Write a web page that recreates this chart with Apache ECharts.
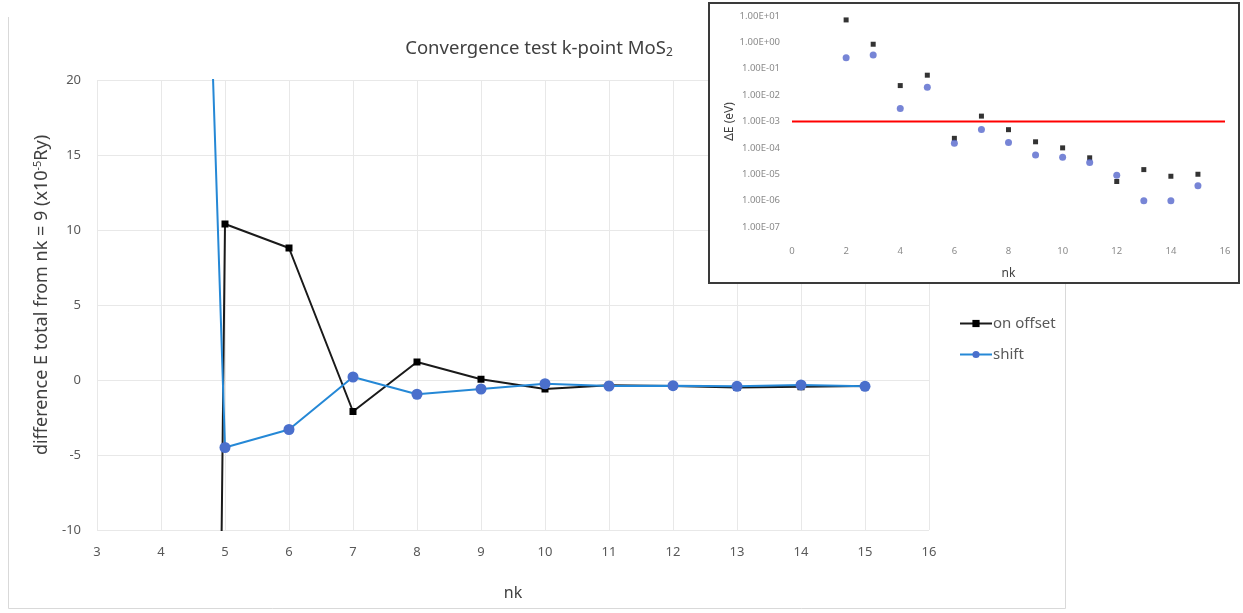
<!DOCTYPE html>
<html>
<head>
<meta charset="utf-8">
<script src="https://cdn.jsdelivr.net/npm/echarts@6/dist/echarts.min.js"></script>
<style>
  html, body { margin: 0; padding: 0; background: #ffffff; }
  #chart { width: 1243px; height: 613px; }
</style>
</head>
<body>
<div id="chart"></div>
<script>
// Main plot: total-energy difference relative to nk = 9 (x10^-5 Ry)
const nkMain = [4, 5, 6, 7, 8, 9, 10, 11, 12, 13, 14, 15];
const onOffsetDiff = [-380, 10.4, 8.8, -2.1, 1.2, 0.05, -0.6, -0.35, -0.4, -0.5, -0.45, -0.4];
const shiftDiff = [127, -4.5, -3.3, 0.2, -0.95, -0.6, -0.25, -0.4, -0.38, -0.42, -0.33, -0.42];

// Inset: |ΔE| in eV on a log scale
const nkInset = [2, 3, 4, 5, 6, 7, 8, 9, 10, 11, 12, 13, 14, 15];
const onOffsetDE = [7.1, 0.85, 0.023, 0.057, 2.3e-4, 1.6e-3, 4.9e-4, 1.7e-4, 1.0e-4, 4.2e-5, 5.3e-6, 1.5e-5, 8.4e-6, 1.0e-5];
const shiftDE = [0.26, 0.33, 3.1e-3, 0.020, 1.5e-4, 5.0e-4, 1.6e-4, 5.4e-5, 4.4e-5, 2.8e-5, 9.1e-6, 1.0e-6, 1.0e-6, 3.7e-6];
const thresholdDE = 1e-3;
const insetRange = [0, 16];

const pairs = (xs, ys) => xs.map((x, i) => [x, ys[i]]);

function sciLabel(v) {
  const e = Math.round(Math.log10(v));
  const m = v / Math.pow(10, e);
  const sign = e < 0 ? '-' : '+';
  const ae = Math.abs(e);
  return m.toFixed(2) + 'E' + sign + (ae < 10 ? '0' + ae : ae);
}

const FONT = '"Noto Sans", "DejaVu Sans", sans-serif';
const GRAY = '#595959';

const chart = echarts.init(document.getElementById('chart'));
chart.setOption({
  animation: false,
  backgroundColor: '#ffffff',
  textStyle: { fontFamily: FONT },
  title: {
    text: 'Convergence test k-point MoS{sub|2}',
    left: 534, top: 33, textAlign: 'center',
    textStyle: {
      fontFamily: FONT, fontSize: 18.5, fontWeight: 'normal', color: '#404040',
      rich: { sub: { fontSize: 12, color: '#404040', verticalAlign: 'bottom', padding: [9, 0, 0, 0] } }
    }
  },
  legend: {
    orient: 'vertical', left: 954, top: 311, itemGap: 16,
    itemWidth: 32, itemHeight: 9,
    textStyle: { fontFamily: FONT, fontSize: 15, color: GRAY, padding: [0, 0, 0, -4] },
    data: ['on offset', 'shift']
  },
  graphic: [
    { type: 'polyline', z: 0, silent: true,
      shape: { points: [[8.5, 17], [8.5, 608.5], [1065.5, 608.5], [1065.5, 284]] },
      style: { stroke: '#d9d9d9', lineWidth: 1, fill: null } },
    { type: 'rect', z: 3, silent: true,
      shape: { x: 709, y: 3, width: 530, height: 280 },
      style: { fill: '#ffffff', stroke: '#3a3a3a', lineWidth: 2 } }
  ],
  grid: [
    { left: 97, top: 80, width: 832, height: 450 },
    { left: 792, top: 16, width: 433, height: 211 }
  ],
  xAxis: [
    {
      gridIndex: 0, type: 'value', min: 3, max: 16, interval: 1,
      name: 'nk', nameLocation: 'middle', nameGap: 55,
      nameTextStyle: { fontFamily: FONT, fontSize: 16, color: '#404040' },
      axisLine: { show: false }, axisTick: { show: false },
      axisLabel: { color: GRAY, fontSize: 13, margin: 16, fontFamily: FONT },
      splitLine: { show: true, lineStyle: { color: '#e8e8e8', width: 1 } }
    },
    {
      gridIndex: 1, type: 'value', min: insetRange[0], max: insetRange[1], interval: 2, z: 5,
      name: 'nk', nameLocation: 'middle', nameGap: 41,
      nameTextStyle: { fontFamily: FONT, fontSize: 12, color: '#404040' },
      axisLine: { show: false }, axisTick: { show: false },
      axisLabel: { color: '#8a8a8a', fontSize: 9.5, margin: 19, fontFamily: FONT },
      splitLine: { show: false }
    }
  ],
  yAxis: [
    {
      gridIndex: 0, type: 'value', min: -10, max: 20, interval: 5,
      name: 'difference E total from nk = 9 (x10{sup|-5}Ry)',
      nameLocation: 'middle', nameGap: 45, nameRotate: 90,
      nameTextStyle: {
        fontFamily: FONT, fontSize: 18, color: '#404040', padding: [0, 0, 0, 20],
        rich: { sup: { fontSize: 11, color: '#404040', verticalAlign: 'top', padding: [0, 0, 9, 0] } }
      },
      axisLine: { show: false }, axisTick: { show: false },
      axisLabel: { color: GRAY, fontSize: 13, margin: 16, fontFamily: FONT },
      splitLine: { show: true, lineStyle: { color: '#e8e8e8', width: 1 } }
    },
    {
      gridIndex: 1, type: 'log', logBase: 10, min: 1e-7, max: 10, interval: 1, z: 5,
      name: 'ΔE (eV)', nameLocation: 'middle', nameGap: 53, nameRotate: 90,
      nameTextStyle: { fontFamily: FONT, fontSize: 12, color: '#404040' },
      axisLine: { show: false }, axisTick: { show: false },
      axisLabel: { color: '#8a8a8a', fontSize: 9.5, margin: 12, fontFamily: FONT, formatter: sciLabel },
      splitLine: { show: false }
    }
  ],
  series: [
    {
      name: 'on offset', type: 'line', xAxisIndex: 0, yAxisIndex: 0, clip: true,
      data: pairs(nkMain, onOffsetDiff),
      symbol: 'rect', symbolSize: 7, showAllSymbol: true,
      lineStyle: { color: '#1a1a1a', width: 2 },
      itemStyle: { color: '#000000' }
    },
    {
      name: 'shift', type: 'line', xAxisIndex: 0, yAxisIndex: 0, clip: true,
      data: pairs(nkMain, shiftDiff),
      symbol: 'circle', symbolSize: 11, showAllSymbol: true,
      lineStyle: { color: '#2588d6', width: 2 },
      itemStyle: { color: '#4a6fcc' }
    },
    {
      name: 'threshold', type: 'line', xAxisIndex: 1, yAxisIndex: 1, z: 6,
      data: insetRange.map(x => [x, thresholdDE]),
      symbol: 'none', silent: true,
      lineStyle: { color: '#ff0000', width: 2 }
    },
    {
      name: 'inset on offset', type: 'scatter', xAxisIndex: 1, yAxisIndex: 1, z: 7,
      data: pairs(nkInset, onOffsetDE),
      symbol: 'rect', symbolSize: 5,
      itemStyle: { color: '#000000' }
    },
    {
      name: 'inset shift', type: 'scatter', xAxisIndex: 1, yAxisIndex: 1, z: 7,
      data: pairs(nkInset, shiftDE),
      symbol: 'circle', symbolSize: 7,
      itemStyle: { color: '#5566cc' }
    }
  ]
});
</script>
</body>
</html>
